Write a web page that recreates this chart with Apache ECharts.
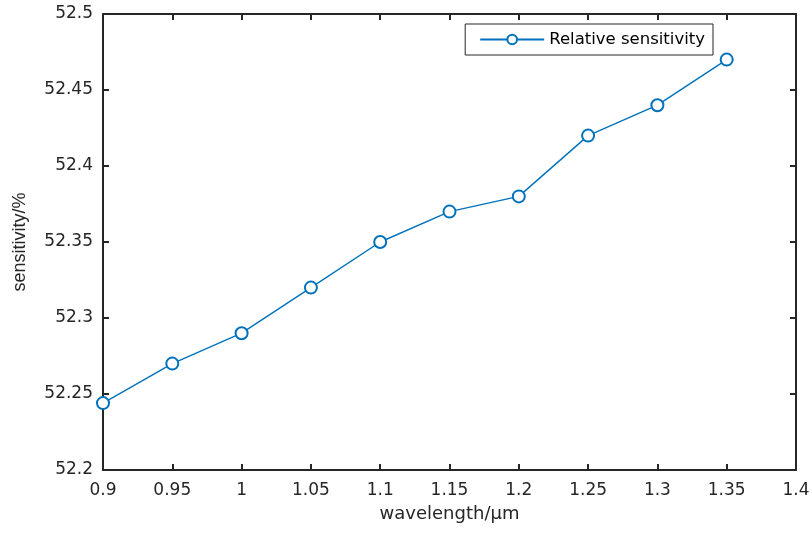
<!DOCTYPE html>
<html>
<head>
    <meta charset="utf-8"/>
    <title>Relative sensitivity</title>
    <script src="https://cdn.jsdelivr.net/npm/echarts@6/dist/echarts.min.js"></script>
    <style>
        html, body { margin: 0; padding: 0; background: #fff; }
        #chart1 { width: 812px; height: 533px; }
    </style>
</head>
<body>
<div id="chart1"></div>
<script type="text/javascript">
    // 数据
    var wavelength = [0.9, 0.95, 1.0, 1.05, 1.1, 1.15, 1.2, 1.25, 1.3, 1.35];
    var sensitivity = [52.244, 52.27, 52.29, 52.32, 52.35, 52.37, 52.38, 52.42, 52.44, 52.47];
    var seriesName = 'Relative sensitivity';

    var points = wavelength.map(function (w, i) { return [w, sensitivity[i]]; });
    var fmt = function (v) { return String(+v.toFixed(2)); };
    // 原图横向略有拉伸，横排文字用较宽的 DejaVu Sans
    var wide = 'DejaVu Sans, sans-serif';
    var narrow = 'Liberation Sans, Arial, sans-serif';

    var myChart1 = echarts.init(document.getElementById('chart1'));

    var boxAxis = {
        axisLine: { show: true, lineStyle: { color: '#262626', width: 2 } },
        axisTick: { show: true, inside: true, length: 6, lineStyle: { color: '#262626', width: 2 } },
        splitLine: { show: false }
    };

    myChart1.setOption({
        animation: false,
        color: ['#0072BD'],
        grid: { left: 103, right: 16, top: 14, bottom: 63, containLabel: false, outerBoundsMode: 'none' },
        legend: {
            right: 99,
            top: 24,
            padding: [7, 8, 7, 14],
            itemWidth: 64,
            itemHeight: 12,
            itemGap: 6,
            borderColor: '#262626',
            borderWidth: 1,
            textStyle: { fontFamily: wide, fontSize: 16.5, color: '#000' },
            data: [seriesName]
        },
        xAxis: [
            Object.assign({
                type: 'value', min: 0.9, max: 1.4, interval: 0.05,
                position: 'bottom',
                name: 'wavelength/μm', nameLocation: 'middle', nameGap: 35,
                nameTextStyle: { fontFamily: wide, fontSize: 18, color: '#262626' },
                axisLabel: { formatter: fmt, fontFamily: wide, fontSize: 17, color: '#262626', margin: 12 }
            }, boxAxis),
            Object.assign({
                type: 'value', min: 0.9, max: 1.4, interval: 0.05,
                position: 'top', axisLabel: { show: false }
            }, boxAxis)
        ],
        yAxis: [
            Object.assign({
                type: 'value', min: 52.2, max: 52.5, interval: 0.05,
                position: 'left',
                name: 'sensitivity/%', nameLocation: 'middle', nameGap: 74,
                nameTextStyle: { fontFamily: narrow, fontSize: 18, color: '#262626' },
                axisLabel: { formatter: fmt, fontFamily: wide, fontSize: 17, color: '#262626', margin: 10 }
            }, boxAxis),
            Object.assign({
                type: 'value', min: 52.2, max: 52.5, interval: 0.05,
                position: 'right', axisLabel: { show: false }
            }, boxAxis)
        ],
        series: [
            {
                name: seriesName,
                type: 'line',
                data: points,
                symbol: 'emptyCircle',
                symbolSize: 12,
                lineStyle: { width: 1.4 },
                itemStyle: { borderWidth: 1.4 }
            }
        ]
    });
</script>
</body>
</html>
